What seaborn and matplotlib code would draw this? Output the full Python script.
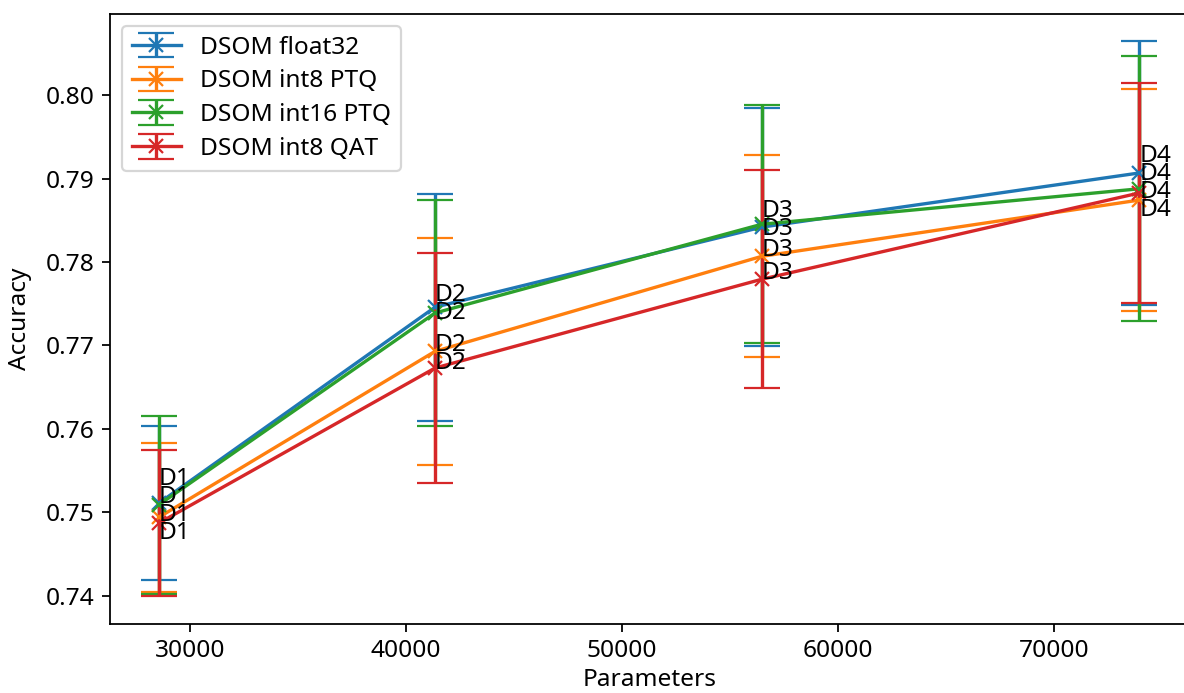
import matplotlib
matplotlib.use("Agg")
import matplotlib.pyplot as plt
import seaborn as sns
import numpy as np

# dados
parametros = [28560, 41340, 56470, 73950]
rotulos = ["D1", "D2", "D3", "D4"]
modelos = ["DSOM float32", "DSOM int8 PTQ", "DSOM int16 PTQ", "DSOM int8 QAT"]

acc_float32 = [0.7511, 0.7746, 0.7842, 0.7907]
std_float32 = [0.0092, 0.0136, 0.0143, 0.0158]
acc_int8_ptq = [0.7494, 0.7693, 0.7807, 0.78745]
std_int8_ptq = [0.00895, 0.0136, 0.0121, 0.01335]
acc_int16_ptq = [0.7509, 0.7739, 0.78455, 0.7888]
std_int16_ptq = [0.0107, 0.01355, 0.01425, 0.0159]
acc_int8_qat = [0.7487, 0.7673, 0.77795, 0.7883]
std_int8_qat = [0.00875, 0.0138, 0.01305, 0.0132]

medias = [acc_float32, acc_int8_ptq, acc_int16_ptq, acc_int8_qat]
desvios = [std_float32, std_int8_ptq, std_int16_ptq, std_int8_qat]

DPI = 160
plt.rcParams["font.family"] = ["Noto Sans", "DejaVu Sans"]
plt.rcParams["font.size"] = 11
cores = sns.color_palette("tab10", 4)

fig = plt.figure(figsize=(1184 / DPI, 693 / DPI), dpi=DPI)
ax = fig.add_axes([110 / 1184, 1 - 623.7 / 693, 1078.5 / 1184, 610.2 / 693])

for nome, m, s, cor in zip(modelos, medias, desvios, cores):
    ax.errorbar(parametros, m, yerr=s, fmt="-x", color=cor, capsize=8, label=nome)

ax.spines["right"].set_visible(False)
ax.set_xlabel("Parameters", labelpad=2)
ax.set_ylabel("Accuracy", labelpad=6)
ax.legend(loc="upper left", labelspacing=0.4)

# rótulos afastados para não sobrepor (em pixels)
fig.canvas.draw()
gap = 18.0
for j, rot in enumerate(rotulos):
    ys = [ax.transData.transform((parametros[j], m[j]))[1] for m in medias]
    ordem = np.argsort(ys)[::-1]
    pos = np.array([ys[i] for i in ordem], dtype=float)
    for _ in range(200):
        for k in range(len(pos) - 1):
            falta = gap - (pos[k] - pos[k + 1])
            if falta > 0:
                pos[k] += falta / 2
                pos[k + 1] -= falta / 2
    for k, i in enumerate(ordem):
        dy = (pos[k] - ys[i]) * 72 / DPI
        ax.annotate(rot, (parametros[j], medias[i][j]), xytext=(0, dy),
                    textcoords="offset points", ha="left", va="baseline")

fig.savefig("out.png", dpi=DPI)
